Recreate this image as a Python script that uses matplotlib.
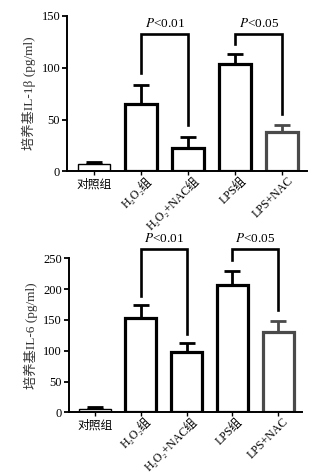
import numpy as np
import matplotlib
matplotlib.use('Agg')
import matplotlib.pyplot as plt

plt.rcParams['font.family'] = ['Liberation Serif', 'Noto Sans CJK SC']
plt.rcParams['mathtext.fontset'] = 'stix'

# group names (same for both panels)
groups = ['对照组', 'H₂O₂组', 'H₂O₂+NAC组', 'LPS组', 'LPS+NAC']

# IL-1beta panel
il1b_mean = [7, 65, 23, 103, 38]
il1b_err = [2, 18, 10, 10, 7]
il1b_yticks = [0, 50, 100, 150]
# brackets: (left bar, right bar, top, left leg bottom, right leg bottom, label)
il1b_brackets = [(1, 2, 132, 95, 45, '$P$<0.01'),
                 (3, 4, 132, 123, 55, '$P$<0.05')]

# IL-6 panel
il6_mean = [5, 153, 98, 206, 131]
il6_err = [3, 22, 14, 23, 18]
il6_yticks = [0, 50, 100, 150, 200, 250]
il6_brackets = [(1, 2, 265, 189, 127, '$P$<0.01'),
                (3, 4, 265, 247, 166, '$P$<0.05')]

edge_colors = ['black', 'black', 'black', 'black', '#4a4a4a']
edge_widths = [1.0, 2.3, 2.3, 2.3, 2.3]


def draw_panel(ax, means, errs, yticks, brackets, ylabel, ptext_off):
    x = np.arange(len(means))
    for i in x:
        ax.bar(i, means[i], width=0.68, color='white',
               edgecolor=edge_colors[i], linewidth=edge_widths[i], zorder=2)
        ax.errorbar(i, means[i], yerr=[[0], [errs[i]]], fmt='none',
                    ecolor=edge_colors[i], elinewidth=2.0, capsize=5.5,
                    capthick=2.0, zorder=1)
    for l, r, top, lb, rb, txt in brackets:
        ax.plot([l, l, r, r], [lb, top, top, rb], color='black', lw=1.9,
                clip_on=False, solid_joinstyle='miter')
        ax.text((l + r) / 2, top + ptext_off, txt, ha='center', va='bottom',
                fontsize=9.5, clip_on=False)

    ax.set_xlim(-0.57, 4.52)
    ax.set_ylim(0, yticks[-1])
    ax.set_yticks(yticks)
    ax.set_xticks(x)
    ax.set_xticklabels([])
    ax.tick_params(axis='y', labelsize=9, width=1.3, length=3.5, pad=1.5)
    ax.tick_params(axis='x', width=1.0, length=3)
    for s in ['top', 'right']:
        ax.spines[s].set_visible(False)
    for s in ['left', 'bottom']:
        ax.spines[s].set_linewidth(1.4)

    # category labels
    ax.text(0, -0.045, groups[0], transform=ax.get_xaxis_transform(),
            ha='center', va='top', fontsize=8.5)
    for i in x[1:]:
        ax.text(i + 0.1, -0.022, groups[i], transform=ax.get_xaxis_transform(),
                ha='right', va='top', rotation=45, rotation_mode='anchor',
                fontsize=8.6)
    ax.set_ylabel(ylabel, fontsize=9.5, color='#333333', labelpad=4)


fig = plt.figure(figsize=(3.31, 4.75), dpi=100)
ax1 = fig.add_axes([0.203, 0.639, 0.724, 0.328])
ax2 = fig.add_axes([0.208, 0.132, 0.704, 0.324])

draw_panel(ax1, il1b_mean, il1b_err, il1b_yticks, il1b_brackets,
           '培养基IL-1β (pg/ml)', 4)
draw_panel(ax2, il6_mean, il6_err, il6_yticks, il6_brackets,
           '培养基IL-6 (pg/ml)', 7)

fig.savefig('out.png', dpi=100)
